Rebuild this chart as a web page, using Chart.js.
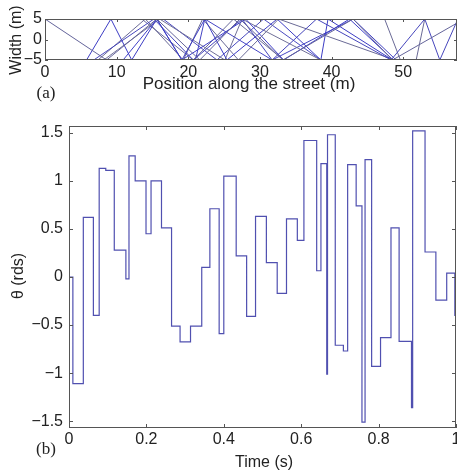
<!DOCTYPE html>
<html>
<head>
<meta charset="utf-8">
<script src="https://cdn.jsdelivr.net/npm/chart.js@4.4.0/dist/chart.umd.min.js"></script>
<style>
  body { margin: 0; background: #fff; width: 457px; height: 471px; overflow: hidden; position: relative;
         font-family: "Liberation Sans", Arial, sans-serif; color: #222; }
  canvas { position: absolute; left: 0; }
  .lbl { position: absolute; font-size: 16px; white-space: nowrap; transform: translate(-50%, -50%); }
  .rot { transform: translate(-50%, -50%) rotate(-90deg); }
  .panel { font-family: "Liberation Serif", serif; font-size: 17px; }
</style>
</head>
<body>
<canvas id="street-chart" width="457" height="110" style="top:0"></canvas>
<canvas id="angle-chart" width="457" height="361" style="top:110px"></canvas>

<div class="lbl rot" style="left:16px; top:40px">Width (m)</div>
<div class="lbl" style="left:249px; top:84px; font-size:17px">Position along the street (m)</div>
<div class="lbl panel" style="left:46px; top:93px">(a)</div>
<div class="lbl rot" style="left:18px; top:276px">θ (rds)</div>
<div class="lbl" style="left:264px; top:462px">Time (s)</div>
<div class="lbl panel" style="left:46px; top:449px">(b)</div>

<script>
// Panel (a): wall-to-wall paths, [x, y] points
const path1 = [[0, 5], [8.6, -5], [15.6, 5], [21.6, -5], [27.2, 5], [33.2, -5], [43.0, 5], [48.5, -5], [57.5, 4.0]];
const path2 = [[5.8, -5], [9.2, 5], [12.1, -5], [15.6, 5], [19.1, -5], [22.3, 5], [25.4, -5], [32.4, 5], [38.5, -5], [39.5, 5], [48.5, -5]];
const path3 = [[6.8, -5], [15.2, 5], [20.7, -5], [27.5, 5], [31.7, -5], [37.9, 5], [48.3, -5], [53.0, 5], [55.1, -5], [57.5, 4.5]];
const path4 = [[7.4, -5], [14.0, 5], [19.3, -5], [22.0, 5], [27.0, -5], [32.6, 5], [48.8, -5]];
const path5 = [[10.9, -5], [15.6, 5], [19.1, -5], [28.0, 5], [33.3, -5], [42.5, 5], [48.6, -5]];
const path6 = [[8.2, -5], [16.0, 5], [25.1, -5], [27.5, 5], [38.5, -5]];
const path7 = [[47.4, 5], [49.6, -5]];
const path8 = [[51.8, -5], [53.0, 5]];
const path9 = [[16.5, 5], [24.0, -5], [30.5, 5], [38.5, -5]];
const path10 = [[13.5, 5], [20.7, -5], [26.3, 5], [33.3, -5]];
const path11 = [[21.0, -5], [22.3, 5], [31.7, -5], [43.0, 5], [49.0, -5]];
const streetPaths = [path1, path2, path3, path4, path5, path6, path7, path8, path9, path10, path11];
const pathColors = ['#64649a', '#3c3cc4', '#4646bc', '#6a6a96', '#4040c8', '#707098', '#6a6a96',
    '#6a6a96', '#4a4ac0', '#6a6a9a', '#4444c4'];
const streetTicksX = [0, 10, 20, 30, 40, 50];
const streetTicksY = [-5, 0, 5];

// Panel (b): angle steps (start time of each step, value held until next time)
const stepTimes = [0, 0.010, 0.037, 0.063, 0.078, 0.095, 0.117, 0.147, 0.155, 0.171, 0.199, 0.212,
    0.239, 0.265, 0.287, 0.314, 0.343, 0.364, 0.388, 0.400, 0.432, 0.459, 0.482, 0.510, 0.538,
    0.562, 0.590, 0.607, 0.640, 0.651, 0.666, 0.668, 0.688, 0.709, 0.720, 0.742, 0.757, 0.765,
    0.782, 0.805, 0.832, 0.853, 0.885, 0.888, 0.920, 0.948, 0.976, 0.997, 1.0];
const stepTheta = [0, -1.11, 0.62, -0.40, 1.13, 1.11, 0.28, -0.02, 1.26, 1.00, 0.45, 1.00,
    0.51, -0.51, -0.675, -0.51, 0.10, 0.71, -0.59, 1.05, 0.22, -0.41, 0.63, 0.15, -0.17,
    0.605, 0.38, 1.42, 0.065, 1.18, -1.01, 1.48, -0.71, -0.77, 1.17, 0.74, -1.51, 1.22,
    -0.93, -0.63, 0.51, -0.67, -1.36, 1.52, 0.26, -0.24, 0.04, -0.40, -0.40];
const angleTicksX = [0, 0.2, 0.4, 0.6, 0.8, 1];
const angleTicksY = [-1.5, -1, -0.5, 0, 0.5, 1, 1.5];

const tickFont = { family: '"Liberation Sans", Arial, sans-serif', size: 16 };
const fmt = v => String(v).replace('-', '\u2212');

// box around the plot area with inward ticks on all four sides
const boxPlugin = {
    id: 'box',
    afterDatasetsDraw(chart, args, opts) {
        const { ctx, chartArea: a, scales: { x, y } } = chart;
        ctx.save();
        ctx.strokeStyle = '#555';
        ctx.lineWidth = 1;
        ctx.strokeRect(a.left + 0.5, a.top + 0.5, a.right - a.left - 1, a.bottom - a.top - 1);
        ctx.beginPath();
        x.ticks.forEach(t => {
            const px = Math.round(x.getPixelForValue(t.value)) + 0.5;
            ctx.moveTo(px, a.bottom); ctx.lineTo(px, a.bottom - opts.len);
            ctx.moveTo(px, a.top); ctx.lineTo(px, a.top + opts.len);
        });
        y.ticks.forEach(t => {
            const py = Math.round(y.getPixelForValue(t.value)) + 0.5;
            ctx.moveTo(a.left, py); ctx.lineTo(a.left + opts.len, py);
            ctx.moveTo(a.right, py); ctx.lineTo(a.right - opts.len, py);
        });
        ctx.stroke();
        ctx.restore();
    }
};

function axis(min, max, ticks, size, pad) {
    return {
        type: 'linear', min: min, max: max,
        grid: { display: false, drawTicks: false },
        border: { display: false },
        ticks: { font: tickFont, color: '#222', padding: pad, autoSkip: false, maxRotation: 0, callback: fmt },
        afterBuildTicks: s => { s.ticks = ticks.map(v => ({ value: v })); },
        afterFit: s => {
            if (s.isHorizontal()) s.height = size; else s.width = size;
            s.paddingLeft = 0; s.paddingRight = 0; s.paddingTop = 0; s.paddingBottom = 0;
        }
    };
}

new Chart(document.getElementById('street-chart'), {
    type: 'scatter',
    data: {
        datasets: streetPaths.map((p, i) => ({
            data: p.map(pt => ({ x: pt[0], y: pt[1] })),
            showLine: true,
            borderColor: pathColors[i],
            borderWidth: 1,
            pointRadius: 0
        }))
    },
    options: {
        responsive: false,
        animation: false,
        layout: { padding: { top: 19, right: 0, left: 0, bottom: 0 } },
        plugins: { legend: { display: false }, tooltip: { enabled: false }, box: { len: 3 } },
        scales: {
            x: axis(0, 57.5, streetTicksX, 50, 3),
            y: axis(-5, 5, streetTicksY, 45, 3)
        }
    },
    plugins: [boxPlugin]
});

new Chart(document.getElementById('angle-chart'), {
    type: 'line',
    data: {
        datasets: [{
            data: stepTimes.map((t, i) => ({ x: t, y: stepTheta[i] })),
            stepped: true,
            borderColor: '#5050b0',
            borderWidth: 1.2,
            pointRadius: 0,
            fill: false
        }]
    },
    options: {
        responsive: false,
        animation: false,
        layout: { padding: { top: 16, right: 1, left: 0, bottom: 0 } },
        plugins: { legend: { display: false }, tooltip: { enabled: false }, box: { len: 4 } },
        scales: {
            x: axis(0, 1, angleTicksX, 43, 2),
            y: axis(-Math.PI / 2, Math.PI / 2, angleTicksY, 69, 6)
        }
    },
    plugins: [boxPlugin]
});
</script>
</body>
</html>
